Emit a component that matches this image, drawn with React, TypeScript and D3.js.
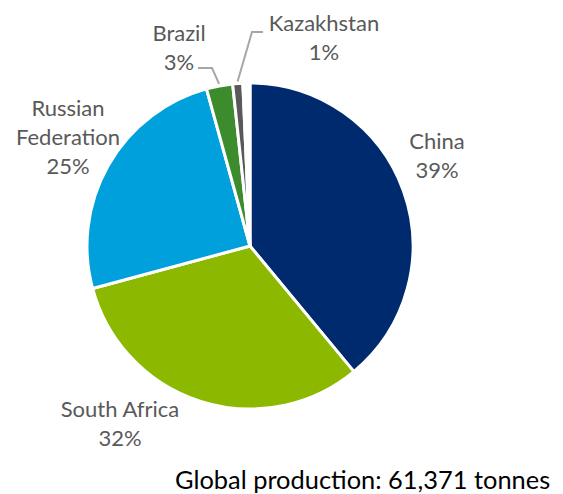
import React from "react";
import * as d3 from "d3";

const categories = ["China", "South Africa", "Russian Federation", "Brazil", "Kazakhstan", "Other"];
const shares = [39.0, 31.8, 24.9, 2.6, 1.0, 0.7];
const colors = ["#002a6e", "#8cb800", "#00a0dc", "#3c8c2e", "#595959", "#ffffff"];
const labelLines = [["China"], ["South Africa"], ["Russian", "Federation"], ["Brazil"], ["Kazakhstan"], []];
const footnote = "Global production: 61,371 tonnes";

const W = 563, H = 494;
const cx = 250, cy = 246, R = 163;
const LH = 29;
// label anchor (center x, first-line center y) per category
const labelPos: [number, number][] = [
  [437, 140], [120, 408], [68, 107], [179, 32], [324, 22], [0, 0],
];
// leader: label-side elbow points for small slices
const leaders: ([number, number][] | null)[] = [null, null, null, [[198, 68], [212, 68]], [[263, 32], [252, 32]], null];

export default function App() {
  const pie = d3.pie<number>().sort(null).value((d) => d);
  const arcs = pie(shares);
  const arc = d3.arc<d3.PieArcDatum<number>>().innerRadius(0).outerRadius(R);
  return (
    <svg width={W} height={H} style={{ position: "absolute", left: 0, top: 0, background: "#fff" }}>
      <g transform={`translate(${cx},${cy})`}>
        {arcs.map((a, i) => (
          <path key={i} d={arc(a) || ""} fill={colors[i]} stroke="#fff" strokeWidth={3} strokeLinejoin="round" />
        ))}
      </g>
      {arcs.map((a, i) => {
        const l = leaders[i];
        if (!l) return null;
        const mid = (a.startAngle + a.endAngle) / 2;
        const px = cx + Math.sin(mid) * (R + 2);
        const py = cy - Math.cos(mid) * (R + 2);
        const pts = [...l, [px, py]];
        return (
          <path key={"l" + i} d={d3.line()(pts as [number, number][]) || ""} fill="none" stroke="#a6a6a6" strokeWidth={2} />
        );
      })}
      {arcs.map((a, i) => {
        const lines = labelLines[i];
        if (!lines.length) return null;
        const [x, y] = labelPos[i];
        const all = [...lines, `${Math.round(shares[i])}%`];
        return (
          <text key={"t" + i} x={x} y={y} textAnchor="middle" dominantBaseline="central" fill="#595959"
            fontFamily="Lato, sans-serif" fontSize={22}>
            {all.map((s, j) => (
              <tspan key={j} x={x} y={y + j * LH}>{s}</tspan>
            ))}
          </text>
        );
      })}
      <text x={175} y={489} fill="#000" fontFamily="Lato, sans-serif" fontSize={25.4}>{footnote}</text>
    </svg>
  );
}
